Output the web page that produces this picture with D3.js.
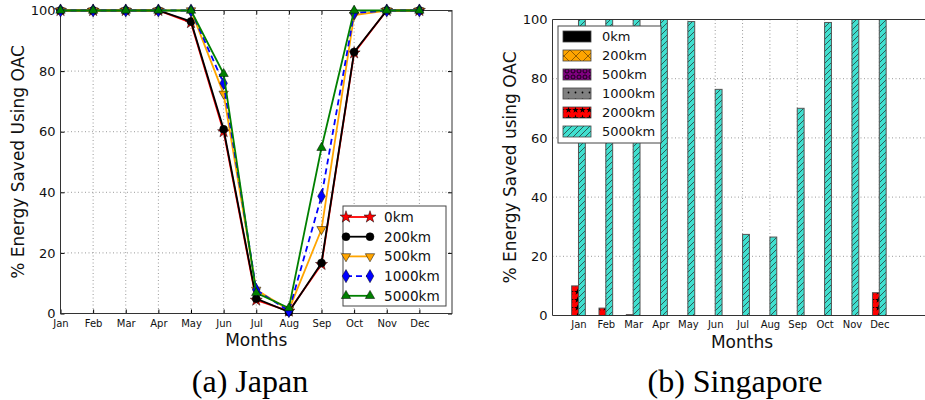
<!DOCTYPE html>
<html>
<head>
<meta charset="utf-8">
<script src="https://cdn.jsdelivr.net/npm/d3@7"></script>
<style>
  body { margin: 0; background: #fff; }
  svg { display: block; font-family: "DejaVu Sans", sans-serif; }
</style>
</head>
<body>
<div id="chart"></div>
<script>
// month names shared by both panels
var months = ["Jan", "Feb", "Mar", "Apr", "May", "Jun", "Jul", "Aug", "Sep", "Oct", "Nov", "Dec"];
var yTicks = [0, 20, 40, 60, 80, 100];

// (a) Japan - one line per distance
var jpNames = ["0km", "200km", "500km", "1000km", "5000km"];
var jp0km    = [100, 100, 100, 100, 96, 60, 4.4, 0.8, 16.2, 86, 100, 100];
var jp200km  = [100, 100, 100, 100, 96.4, 60.8, 4.9, 0.5, 16.7, 86.3, 100, 100];
var jp500km  = [100, 100, 100, 100, 100, 72.5, 7.8, 1.2, 27.8, 98.5, 100, 100];
var jp1000km = [100, 100, 100, 100, 100, 76, 7.8, 0.8, 38.7, 99.2, 100, 100];
var jp5000km = [100, 100, 100, 100, 100, 79.1, 6.8, 1.8, 54.7, 100, 100, 100];

// (b) Singapore - one bar per distance
var sgNames = ["0km", "200km", "500km", "1000km", "2000km", "5000km"];
var sg0km    = [0, 0, 0, 0, 0, 0, 0, 0, 0, 0, 0, 0];
var sg200km  = [0, 0, 0, 0, 0, 0, 0, 0, 0, 0, 0, 0];
var sg500km  = [0, 0, 0, 0, 0, 0, 0, 0, 0, 0, 0, 0];
var sg1000km = [0, 0, 0, 0, 0, 0, 0, 0, 0, 0, 0, 0];
var sg2000km = [10, 2.5, 0.3, 0, 0, 0, 0, 0, 0, 0, 0, 7.7];
var sg5000km = [100, 100, 100, 100, 99.3, 76.4, 27.4, 26.5, 70, 99, 100, 100];

var width = 925, height = 400;

var svg = d3.select("#chart").append("svg")
  .attr("width", width)
  .attr("height", height);

var defs = svg.append("defs");

// ---------- hatch patterns for the bars ----------
function pattern(id, w, h, bg) {
  var p = defs.append("pattern")
    .attr("id", id)
    .attr("patternUnits", "userSpaceOnUse")
    .attr("width", w)
    .attr("height", h);
  p.append("rect").attr("width", w).attr("height", h).attr("fill", bg);
  return p;
}

pattern("h-solid", 4, 4, "#000");

var px = pattern("h-x", 12, 12, "#ffa500");
px.append("path").attr("d", "M0,0L12,12M12,0L0,12")
  .attr("stroke", "#7a4a00").attr("stroke-width", 0.8);

var po = pattern("h-o", 6, 6, "#800080");
po.append("circle").attr("cx", 3).attr("cy", 3).attr("r", 2)
  .attr("fill", "none").attr("stroke", "#000").attr("stroke-width", 0.8);

var pd = pattern("h-dot", 7, 7, "#808080");
pd.append("circle").attr("cx", 3.5).attr("cy", 3.5).attr("r", 0.9).attr("fill", "#000");

var ps = pattern("h-star", 7, 8, "#ff0000");
ps.append("path")
  .attr("d", d3.symbol().type(d3.symbolStar).size(14)())
  .attr("transform", "translate(3.5,4)")
  .attr("fill", "#000");

var pl = pattern("h-slash", 6, 6, "#40e0d0");
pl.append("path").attr("d", "M0,6L6,0M-1,1L1,-1M5,7L7,5")
  .attr("stroke", "#222").attr("stroke-width", 0.7);

var sgFills = ["url(#h-solid)", "url(#h-x)", "url(#h-o)", "url(#h-dot)", "url(#h-star)", "url(#h-slash)"];

// ================= (a) Japan =================
var L = {left: 60.5, right: 452, top: 10.5, bottom: 313.5};

var xL = d3.scaleLinear().domain([0, 12]).range([L.left, L.right]);
var yL = d3.scaleLinear().domain([0, 100]).range([L.bottom, L.top]);

var gL = svg.append("g");

// dotted grid
gL.append("g").selectAll("line").data(d3.range(1, 12)).enter().append("line")
  .attr("x1", d => xL(d)).attr("x2", d => xL(d))
  .attr("y1", L.top).attr("y2", L.bottom)
  .attr("stroke", "#9a9a9a").attr("stroke-dasharray", "1,2.5");
gL.append("g").selectAll("line").data(yTicks.slice(1, 5)).enter().append("line")
  .attr("x1", L.left).attr("x2", L.right)
  .attr("y1", d => yL(d)).attr("y2", d => yL(d))
  .attr("stroke", "#9a9a9a").attr("stroke-dasharray", "1,2.5");

// axes with inward ticks on all four sides
gL.append("g")
  .attr("transform", "translate(0," + L.bottom + ")")
  .call(d3.axisBottom(xL).tickValues(d3.range(12)).tickSize(-4).tickPadding(6)
    .tickFormat(d => months[d]))
  .call(g => g.select(".domain").remove())
  .call(g => g.selectAll("text").attr("font-size", 10).attr("fill", "#111")
    .attr("font-family", "DejaVu Sans"));
gL.append("g")
  .attr("transform", "translate(0," + L.top + ")")
  .call(d3.axisTop(xL).tickValues(d3.range(12)).tickSize(-4).tickFormat(""))
  .call(g => g.select(".domain").remove());
gL.append("g")
  .attr("transform", "translate(" + L.left + ",0)")
  .call(d3.axisLeft(yL).tickValues(yTicks).tickSize(-4).tickPadding(5))
  .call(g => g.select(".domain").remove())
  .call(g => g.selectAll("text").attr("font-size", 13).attr("fill", "#111")
    .attr("font-family", "DejaVu Sans"));
gL.append("g")
  .attr("transform", "translate(" + L.right + ",0)")
  .call(d3.axisRight(yL).tickValues(yTicks).tickSize(-4).tickFormat(""))
  .call(g => g.select(".domain").remove());

gL.append("rect")
  .attr("x", L.left).attr("y", L.top)
  .attr("width", L.right - L.left).attr("height", L.bottom - L.top)
  .attr("fill", "none").attr("stroke", "#333").attr("stroke-width", 1);

// series styles
var jpSeries = [
  {name: jpNames[0], values: jp0km, color: "#ff0000", dash: null, sym: d3.symbolStar, size: 45, rot: 0},
  {name: jpNames[1], values: jp200km, color: "#000000", dash: null, sym: d3.symbolCircle, size: 50, rot: 0},
  {name: jpNames[2], values: jp500km, color: "#ffa500", dash: null, sym: d3.symbolTriangle, size: 38, rot: 180},
  {name: jpNames[3], values: jp1000km, color: "#0000ff", dash: "6,4", sym: d3.symbolDiamond, size: 50, rot: 0},
  {name: jpNames[4], values: jp5000km, color: "#008000", dash: null, sym: d3.symbolTriangle, size: 38, rot: 0}
];

var line = d3.line().x((d, i) => xL(i)).y(d => yL(d));

jpSeries.forEach(function(s) {
  var g = gL.append("g");
  g.append("path")
    .attr("d", line(s.values))
    .attr("fill", "none")
    .attr("stroke", s.color)
    .attr("stroke-width", 1.8)
    .attr("stroke-dasharray", s.dash);
  g.selectAll("path.m").data(s.values).enter().append("path")
    .attr("class", "m")
    .attr("d", d3.symbol().type(s.sym).size(s.size)())
    .attr("transform", (d, i) => "translate(" + xL(i) + "," + yL(d) + ") rotate(" + s.rot + ")")
    .attr("fill", s.color)
    .attr("stroke", "#000")
    .attr("stroke-width", 0.5);
});

// legend
var lgL = gL.append("g").attr("transform", "translate(343,206)");
lgL.append("rect").attr("width", 103).attr("height", 100)
  .attr("fill", "#fff").attr("stroke", "#444");
jpSeries.forEach(function(s, k) {
  var y = 11 + k * 19.7;
  lgL.append("line").attr("x1", 3).attr("x2", 27).attr("y1", y).attr("y2", y)
    .attr("stroke", s.color).attr("stroke-width", 1.8).attr("stroke-dasharray", s.dash);
  [3, 27].forEach(function(x) {
    lgL.append("path")
      .attr("d", d3.symbol().type(s.sym).size(s.size)())
      .attr("transform", "translate(" + x + "," + y + ") rotate(" + s.rot + ")")
      .attr("fill", s.color).attr("stroke", "#000").attr("stroke-width", 0.5);
  });
  lgL.append("text").attr("x", 41).attr("y", y).attr("dy", "0.36em")
    .attr("font-size", 13.6).attr("fill", "#111").text(s.name);
});

// axis titles
gL.append("text")
  .attr("x", (L.left + L.right) / 2).attr("y", 346)
  .attr("text-anchor", "middle").attr("font-size", 17).attr("fill", "#111")
  .text("Months");
gL.append("text")
  .attr("transform", "translate(24," + (L.top + L.bottom) / 2 + ") rotate(-90)")
  .attr("text-anchor", "middle").attr("font-size", 17).attr("fill", "#111")
  .text("% Energy Saved Using OAC");

// ================= (b) Singapore =================
var R = {left: 552.5, right: 934, top: 19.5, bottom: 315.5};

var xR = d3.scaleLinear().domain([-0.95, 13]).range([R.left, R.right]);
var yR = d3.scaleLinear().domain([0, 100]).range([R.bottom, R.top]);
var barW = 0.25;

var gR = svg.append("g");

defs.append("clipPath").attr("id", "clipR").append("rect")
  .attr("x", R.left).attr("y", R.top - 1)
  .attr("width", R.right - R.left).attr("height", R.bottom - R.top + 2);

gR.append("g").selectAll("line").data(d3.range(12)).enter().append("line")
  .attr("x1", d => xR(d)).attr("x2", d => xR(d))
  .attr("y1", R.top).attr("y2", R.bottom)
  .attr("stroke", "#9a9a9a").attr("stroke-dasharray", "1,2.5");
gR.append("g").selectAll("line").data(yTicks.slice(1, 5)).enter().append("line")
  .attr("x1", R.left).attr("x2", R.right)
  .attr("y1", d => yR(d)).attr("y2", d => yR(d))
  .attr("stroke", "#9a9a9a").attr("stroke-dasharray", "1,2.5");

var sgValues = [sg0km, sg200km, sg500km, sg1000km, sg2000km, sg5000km];

var bars = gR.append("g").attr("clip-path", "url(#clipR)");
sgValues.forEach(function(vals, k) {
  bars.append("g").selectAll("rect").data(vals).enter().append("rect")
    .attr("x", (d, i) => xR(i + (k - 5) * barW))
    .attr("width", xR(barW) - xR(0))
    .attr("y", d => yR(d))
    .attr("height", d => yR(0) - yR(d))
    .attr("fill", sgFills[k])
    .attr("stroke", "#555")
    .attr("stroke-width", 1);
});

gR.append("g")
  .attr("transform", "translate(0," + R.bottom + ")")
  .call(d3.axisBottom(xR).tickValues(d3.range(12)).tickSize(0).tickPadding(5)
    .tickFormat(d => months[d]))
  .call(g => g.select(".domain").remove())
  .call(g => g.selectAll("text").attr("font-size", 10).attr("fill", "#111")
    .attr("font-family", "DejaVu Sans"));
gR.append("g")
  .attr("transform", "translate(" + R.left + ",0)")
  .call(d3.axisLeft(yR).tickValues(yTicks).tickSize(0).tickPadding(5))
  .call(g => g.select(".domain").remove())
  .call(g => g.selectAll("text").attr("font-size", 13).attr("fill", "#111")
    .attr("font-family", "DejaVu Sans"));

gR.append("path")
  .attr("d", "M" + R.right + "," + R.top + "H" + R.left + "V" + R.bottom + "H" + R.right)
  .attr("fill", "none").attr("stroke", "#333").attr("stroke-width", 1);

// legend
var lgR = gR.append("g").attr("transform", "translate(558,26)");
lgR.append("rect").attr("width", 103).attr("height", 117)
  .attr("fill", "#fff").attr("stroke", "#444");
sgNames.forEach(function(name, k) {
  var y = 10.5 + k * 19;
  lgR.append("rect").attr("x", 5).attr("y", y - 5.5).attr("width", 28).attr("height", 11)
    .attr("fill", sgFills[k]).attr("stroke", "#444").attr("stroke-width", 0.8);
  lgR.append("text").attr("x", 44).attr("y", y).attr("dy", "0.36em")
    .attr("font-size", 13).attr("fill", "#111").text(name);
});

gR.append("text")
  .attr("x", 742).attr("y", 348)
  .attr("text-anchor", "middle").attr("font-size", 17).attr("fill", "#111")
  .text("Months");
gR.append("text")
  .attr("transform", "translate(516," + (R.top + R.bottom) / 2 + ") rotate(-90)")
  .attr("text-anchor", "middle").attr("font-size", 17).attr("fill", "#111")
  .text("% Energy Saved using OAC");

// ---------- captions ----------
svg.append("text")
  .attr("x", 250).attr("y", 392)
  .attr("text-anchor", "middle")
  .attr("font-family", "Liberation Serif, serif").attr("font-size", 32)
  .text("(a) Japan");
svg.append("text")
  .attr("x", 735).attr("y", 392)
  .attr("text-anchor", "middle")
  .attr("font-family", "Liberation Serif, serif").attr("font-size", 32)
  .text("(b) Singapore");
</script>
</body>
</html>
